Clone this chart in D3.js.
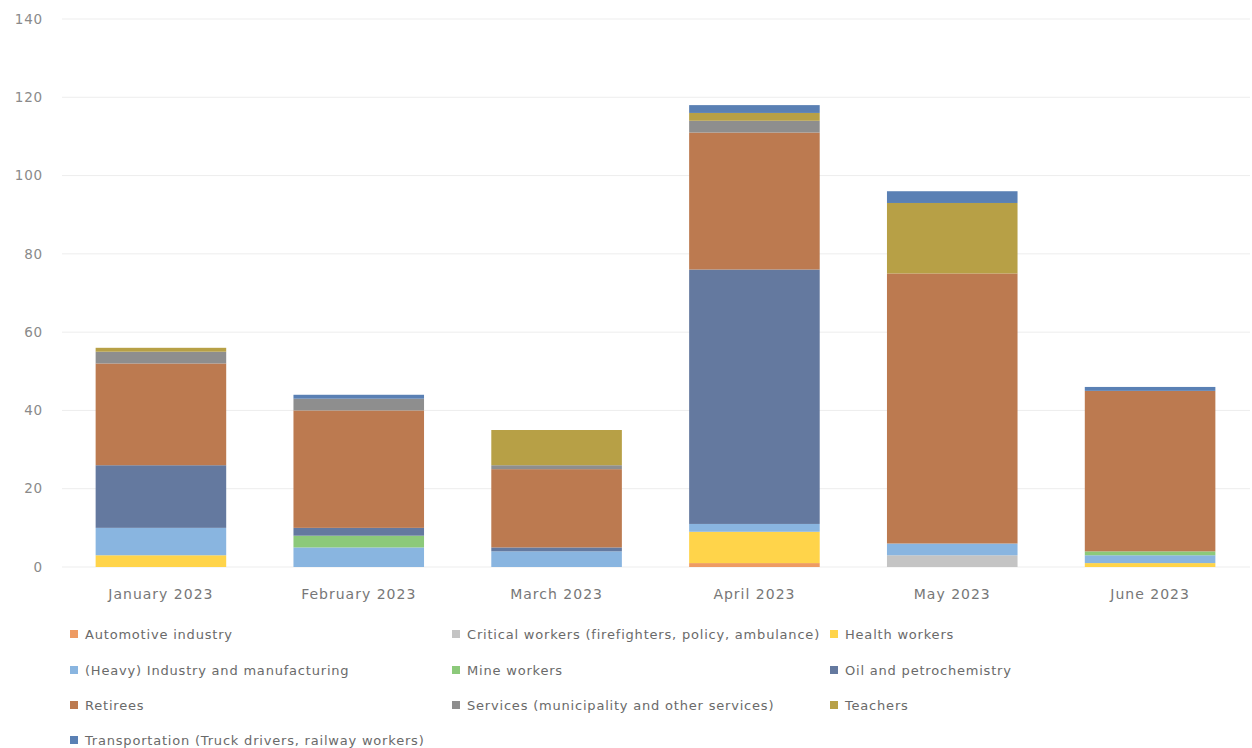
<!DOCTYPE html>
<html><head><meta charset="utf-8">
<script src="https://cdn.jsdelivr.net/npm/d3@7"></script>
<style>body{margin:0;background:#fff;} text{font-family:"DejaVu Sans",sans-serif;}</style>
</head><body>
<svg id="c" width="1252" height="748"></svg>
<script>
const months = ["January 2023","February 2023","March 2023","April 2023","May 2023","June 2023"];
const series = ["Automotive industry","Critical workers (firefighters, policy, ambulance)","Health workers","(Heavy) Industry and manufacturing","Mine workers","Oil and petrochemistry","Retirees","Services (municipality and other services)","Teachers","Transportation (Truck drivers, railway workers)"];
const automotive     = [0,0,0,1,0,0];
const critical       = [0,0,0,0,3,0];
const health         = [3,0,0,8,0,1];
const heavy          = [7,5,4,2,3,2];
const mine           = [0,3,0,0,0,1];
const oil            = [16,2,1,65,0,0];
const retirees       = [26,30,20,35,69,41];
const services       = [3,3,1,3,0,0];
const teachers       = [1,0,9,2,18,0];
const transportation = [0,1,0,2,3,1];
const yTicks = [0,20,40,60,80,100,120,140];
const colors = ["#EE9B63","#C4C4C4","#FFD44A","#89B5E0","#8CC97A","#64799F","#BC7A50","#8E8E8E","#B7A046","#5A80B4"];

const seriesValues = [automotive,critical,health,heavy,mine,oil,retirees,services,teachers,transportation];
const table = months.map((m,i)=>{const o={month:m}; series.forEach((s,j)=>o[s]=seriesValues[j][i]); return o;});
const stacked = d3.stack().keys(series)(table);

const svg = d3.select("#c");
const x = d3.scaleBand().domain(months).range([62,1249]).paddingInner(0.34).paddingOuter(0.17);
const y = d3.scaleLinear().domain([0,140]).range([567,19]);

svg.append("g").selectAll("line").data(yTicks).join("line")
  .attr("x1",62).attr("x2",1250).attr("y1",d=>y(d)).attr("y2",d=>y(d))
  .attr("stroke","#EDEDED").attr("stroke-width",1);

svg.append("g").selectAll("text").data(yTicks).join("text")
  .attr("x",43).attr("y",d=>y(d)).attr("dy","0.35em").attr("text-anchor","end")
  .attr("font-size",13.5).attr("letter-spacing","0.8px").attr("fill","#8a8a8a").text(d=>d);

svg.append("g").selectAll("g").data(stacked).join("g")
  .attr("fill",(d,i)=>colors[i])
  .selectAll("rect").data(d=>d).join("rect")
  .attr("x",d=>x(d.data.month)).attr("width",x.bandwidth())
  .attr("y",d=>y(d[1])).attr("height",d=>y(d[0])-y(d[1]));

svg.append("g").selectAll("text").data(months).join("text")
  .attr("x",d=>x(d)+x.bandwidth()/2).attr("y",599).attr("text-anchor","middle")
  .attr("font-size",14).attr("letter-spacing","1px").attr("fill","#777").text(d=>d);

const colX = [70,452,830];
const rowY = [634,670,705,740];
const lg = svg.append("g").selectAll("g").data(series).join("g")
  .attr("transform",(d,i)=>`translate(${colX[i%3]},${rowY[Math.floor(i/3)]})`);
lg.append("rect").attr("x",0).attr("y",-4).attr("width",8).attr("height",8).attr("fill",(d,i)=>colors[i]);
lg.append("text").attr("x",15).attr("y",0).attr("dy","0.35em").attr("font-size",13).attr("letter-spacing","0.8px").attr("fill","#6a6a6a").text(d=>d);
</script>
</body></html>
